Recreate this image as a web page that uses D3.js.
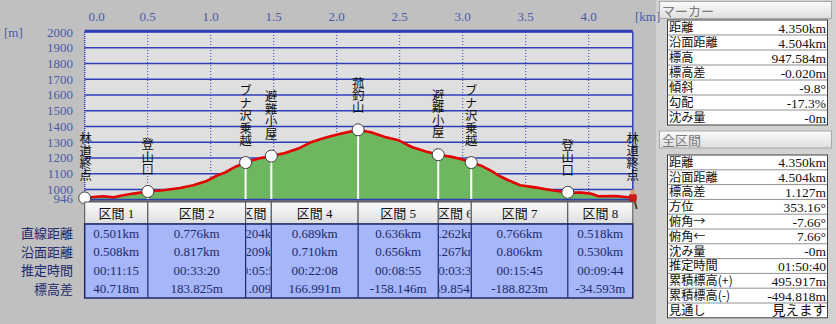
<!DOCTYPE html>
<html>
<head>
<meta charset="utf-8">
<script src="https://cdn.jsdelivr.net/npm/d3@7"></script>
<style>
  body { margin: 0; background: #c0c0c0; }
  svg { display: block; font-family: "Liberation Serif", "Noto Sans CJK JP", serif; }
</style>
</head>
<body>
<svg id="chart" width="836" height="324"></svg>
<script>
// profile: distance [km] / elevation [m]
const profileKm = [0, 0.068, 0.148, 0.227, 0.306, 0.386, 0.501, 0.624, 0.756, 0.862, 0.968, 1.048, 1.114, 1.193, 1.277,
    1.378, 1.481, 1.590, 1.695, 1.802, 1.907, 2.013, 2.119, 2.170, 2.278, 2.383, 2.489, 2.595, 2.701, 2.806, 2.913,
    2.992, 3.068, 3.151, 3.230, 3.296, 3.362, 3.455, 3.587, 3.706, 3.834, 3.944, 4.023, 4.076, 4.214, 4.294, 4.350]
const profileElev = [946, 952, 957, 950, 963, 974, 987, 995, 1010, 1027, 1054, 1088, 1108, 1143, 1171,
    1197, 1212, 1232, 1260, 1302, 1328, 1351, 1370, 1379, 1362, 1334, 1313, 1270, 1243, 1221, 1207,
    1192, 1171, 1150, 1116, 1084, 1059, 1027, 1012, 995, 982, 980, 973, 957, 959, 952, 947.6]

const waypointNames = ["林道終点", "登山口", "ブナ沢乗越", "避難小屋", "菰釣山", "避難小屋", "ブナ沢乗越", "登山口", "林道終点"]
const startElev = 946.457

// section table
const sectionNames = ["区間 1", "区間 2", "区間 3", "区間 4", "区間 5", "区間 6", "区間 7", "区間 8"]
const straightDist = [0.501, 0.776, 0.204, 0.689, 0.636, 0.262, 0.766, 0.518]
const surfaceDist = [0.508, 0.817, 0.209, 0.710, 0.656, 0.267, 0.806, 0.530]
const estTime = ["00:11:15", "00:33:20", "00:05:55", "00:22:08", "00:08:55", "00:03:38", "00:15:45", "00:09:44"]
const elevDiff = [40.718, 183.825, 41.009, 166.991, -158.146, -49.854, -188.823, -34.593]
const rowLabels = ["直線距離", "沿面距離", "推定時間", "標高差"]

// side panels
const markerLabels = ["距離", "沿面距離", "標高", "標高差", "傾斜", "勾配", "沈み量"]
const markerValues = ["4.350km", "4.504km", "947.584m", "-0.020m", "-9.8°", "-17.3%", "-0m"]
const totalLabels = ["距離", "沿面距離", "標高差", "方位", "俯角→", "俯角←", "沈み量", "推定時間", "累積標高(+)", "累積標高(-)", "見通し"]
const totalValues = ["4.350km", "4.504km", "1.127m", "353.16°", "-7.66°", "7.66°", "-0m", "01:50:40", "495.917m", "-494.818m", "見えます"]

const xTicks = [0, 0.5, 1.0, 1.5, 2.0, 2.5, 3.0, 3.5, 4.0]
const yTicks = [2000, 1900, 1800, 1700, 1600, 1500, 1400, 1300, 1200, 1100, 1000]
const yMin = 946

const svg = d3.select("#chart")
const x = d3.scaleLinear().domain([0, 4.35]).range([84.7, 632.8])
const y = d3.scaleLinear().domain([yMin, 2000]).range([198, 32])
const axisBlue = "#4a5aa8"
const navy = "#1c2a6a"

// waypoint positions from the section distances
const wpKm = [0]
straightDist.forEach(d => wpKm.push(Math.min(4.35, wpKm[wpKm.length - 1] + d)))
const wpElev = [startElev]
elevDiff.forEach(d => wpElev.push(wpElev[wpElev.length - 1] + d))

const defs = svg.append("defs")
const btn = defs.append("linearGradient").attr("id", "btn").attr("x1", 0).attr("x2", 0).attr("y1", 0).attr("y2", 1)
btn.append("stop").attr("offset", "0%").attr("stop-color", "#fbfbfb")
btn.append("stop").attr("offset", "100%").attr("stop-color", "#dedede")

// right panel background
svg.append("rect").attr("x", 656).attr("y", 0).attr("width", 180).attr("height", 324).attr("fill", "#d2d2d2")

// plot background
svg.append("rect")
    .attr("x", x(0)).attr("y", y(2000))
    .attr("width", x(4.35) - x(0)).attr("height", y(yMin) - y(2000) + 1)
    .attr("fill", "#dfdfdf")

// horizontal grid
svg.selectAll(".hgrid")
    .data(yTicks)
    .enter().append("line")
    .attr("x1", x(0)).attr("x2", x(4.35))
    .attr("y1", d => y(d)).attr("y2", d => y(d))
    .attr("stroke", "#2f3fb8").attr("stroke-width", 1.3)

// vertical dotted grid
svg.selectAll(".vgrid")
    .data(xTicks.slice(1))
    .enter().append("line")
    .attr("x1", d => x(d)).attr("x2", d => x(d))
    .attr("y1", y(2000)).attr("y2", y(yMin))
    .attr("stroke", "#2f3fb8").attr("stroke-width", 1)
    .attr("stroke-dasharray", "1,2")

// profile area + line
const area = d3.area()
    .x((d, i) => x(profileKm[i]))
    .y0(y(yMin) + 1)
    .y1(d => y(d))
svg.append("path").datum(profileElev).attr("d", area).attr("fill", "#6fb660")

const line = d3.line()
    .x((d, i) => x(profileKm[i]))
    .y(d => y(d))
svg.append("path").datum(profileElev).attr("d", line)
    .attr("fill", "none").attr("stroke", "#e40000").attr("stroke-width", 2.6)

// frame
svg.append("line").attr("x1", x(0)).attr("x2", x(4.35)).attr("y1", y(2000) - 1).attr("y2", y(2000) - 1)
    .attr("stroke", "#2f3fb8").attr("stroke-width", 2.5)
svg.append("line").attr("x1", x(0)).attr("x2", x(0)).attr("y1", y(2000)).attr("y2", y(yMin) + 2)
    .attr("stroke", "#2f3fb8").attr("stroke-width", 1.5).attr("stroke-dasharray", "1,1")
svg.append("line").attr("x1", x(4.35)).attr("x2", x(4.35)).attr("y1", y(2000)).attr("y2", y(yMin) + 2)
    .attr("stroke", "#2f3fb8").attr("stroke-width", 1.5)
svg.append("line").attr("x1", x(0)).attr("x2", x(4.35)).attr("y1", y(yMin) + 1.5).attr("y2", y(yMin) + 1.5)
    .attr("stroke", "#2f3fb8").attr("stroke-width", 1.5)
svg.append("line").attr("x1", x(0)).attr("x2", x(4.35)).attr("y1", y(yMin) + 3).attr("y2", y(yMin) + 3)
    .attr("stroke", "#303050").attr("stroke-width", 1.2)

// waypoint drop lines, circles, vertical labels
svg.selectAll(".drop")
    .data(wpKm.slice(1, -1))
    .enter().append("line")
    .attr("x1", d => x(d)).attr("x2", d => x(d))
    .attr("y1", (d, i) => y(wpElev[i + 1])).attr("y2", y(yMin) + 1)
    .attr("stroke", "white").attr("stroke-width", 2)

svg.selectAll(".wp")
    .data(wpKm.slice(0, -1))
    .enter().append("circle")
    .attr("cx", d => x(d)).attr("cy", (d, i) => y(wpElev[i]))
    .attr("r", 6)
    .attr("fill", "white").attr("stroke", "#404040").attr("stroke-width", 1)

svg.selectAll(".wlab")
    .data(waypointNames)
    .enter().append("text")
    .attr("x", (d, i) => i === 0 ? x(0) + 1 : x(wpKm[i]))
    .attr("y", (d, i) => y(wpElev[i]) - 16)
    .attr("writing-mode", "vertical-rl")
    .attr("text-anchor", "end")
    .attr("font-family", "Noto Sans CJK JP")
    .attr("font-size", 12.4)
    .attr("fill", "#111")
    .text(d => d)

// hiker marker at the end
const hk = svg.append("g").attr("transform", `translate(${x(4.35)},${y(yMin) + 2})`)
hk.append("rect").attr("x", -4).attr("y", -6).attr("width", 8).attr("height", 8).attr("rx", 2).attr("fill", "#c81818")
hk.append("circle").attr("cx", 0).attr("cy", -8).attr("r", 2.5).attr("fill", "#d8a070")
hk.append("path").attr("d", "M-3,2 L-5,9 M2,2 L4,9").attr("stroke", "#504020").attr("stroke-width", 2)

// top axis
svg.selectAll(".xlab")
    .data(xTicks)
    .enter().append("text")
    .attr("x", d => d === 0 ? x(0) + 12 : x(d))
    .attr("y", 21)
    .attr("text-anchor", "middle")
    .attr("font-size", 13)
    .attr("fill", axisBlue)
    .text(d => d.toFixed(1))
svg.append("text").attr("x", 635).attr("y", 21).attr("font-size", 13).attr("fill", axisBlue).text("[km]")

// left axis
svg.selectAll(".ylab")
    .data(yTicks.concat([yMin]))
    .enter().append("text")
    .attr("x", 73)
    .attr("y", d => y(d) + 4.5)
    .attr("text-anchor", "end")
    .attr("font-size", 13)
    .attr("fill", axisBlue)
    .text(d => d)
svg.append("text").attr("x", 4).attr("y", 37).attr("font-size", 13).attr("fill", axisBlue).text("[m]")

// section table
const tTop = 202, hdrH = 22, rowH = 18.5
const cols = sectionNames.map((s, i) => ({ x0: x(wpKm[i]), x1: x(wpKm[i + 1]), i }))
const rows = [
    straightDist.map(d => d.toFixed(3) + "km"),
    surfaceDist.map(d => d.toFixed(3) + "km"),
    estTime,
    elevDiff.map(d => d.toFixed(3) + "m")
]

cols.forEach(c => {
    defs.append("clipPath").attr("id", "col" + c.i)
        .append("rect").attr("x", c.x0 + 1).attr("y", tTop).attr("width", c.x1 - c.x0 - 2).attr("height", hdrH + rowH * 4)
})

svg.selectAll(".hdr")
    .data(cols)
    .enter().append("rect")
    .attr("x", c => c.x0).attr("y", tTop)
    .attr("width", c => c.x1 - c.x0).attr("height", hdrH)
    .attr("fill", "url(#btn)").attr("stroke", "#505050").attr("stroke-width", 1)

svg.append("rect")
    .attr("x", x(0)).attr("y", tTop + hdrH)
    .attr("width", x(4.35) - x(0)).attr("height", rowH * 4)
    .attr("fill", "#a6b6f8").attr("stroke", navy).attr("stroke-width", 1.5)

svg.selectAll(".csep")
    .data(cols.slice(1))
    .enter().append("line")
    .attr("x1", c => c.x0).attr("x2", c => c.x0)
    .attr("y1", tTop + hdrH).attr("y2", tTop + hdrH + rowH * 4)
    .attr("stroke", navy).attr("stroke-width", 1.2)

cols.forEach(c => {
    const g = svg.append("g").attr("clip-path", `url(#col${c.i})`)
    g.append("text")
        .attr("x", (c.x0 + c.x1) / 2).attr("y", tTop + 16)
        .attr("text-anchor", "middle").attr("font-size", 13).attr("fill", "#111")
        .text(sectionNames[c.i])
    g.selectAll("text.v")
        .data(rows)
        .enter().append("text")
        .attr("class", "v")
        .attr("x", (c.x0 + c.x1) / 2)
        .attr("y", (r, j) => tTop + hdrH + rowH * j + 13.5)
        .attr("text-anchor", "middle").attr("font-size", 13).attr("fill", navy)
        .text(r => r[c.i])
})

svg.selectAll(".rlab")
    .data(rowLabels)
    .enter().append("text")
    .attr("x", 73)
    .attr("y", (d, j) => tTop + hdrH + rowH * j + 14)
    .attr("text-anchor", "end")
    .attr("font-family", "Noto Sans CJK JP")
    .attr("font-size", 13)
    .attr("fill", navy)
    .text(d => d)

// side panels
function drawPanel(hy, title, top, rh, labels, values) {
    svg.append("rect").attr("x", 659.5).attr("y", hy).attr("width", 172).attr("height", 17)
        .attr("fill", "url(#btn)").attr("stroke", "#a8a8a8")
    svg.append("text").attr("x", 662).attr("y", hy + 14).attr("font-family", "Noto Sans CJK JP")
        .attr("font-size", 13).attr("fill", "#7a7a7a").text(title)
    svg.append("rect").attr("x", 667.5).attr("y", top).attr("width", 160).attr("height", rh * labels.length)
        .attr("fill", "white").attr("stroke", "#404040")
    svg.selectAll(null)
        .data(labels.slice(1))
        .enter().append("line")
        .attr("x1", 668).attr("x2", 827)
        .attr("y1", (d, i) => top + rh * (i + 1)).attr("y2", (d, i) => top + rh * (i + 1))
        .attr("stroke", "#909090")
    svg.selectAll(null)
        .data(labels)
        .enter().append("text")
        .attr("x", 669).attr("y", (d, i) => top + rh * i + rh - 3)
        .attr("font-family", "Noto Sans CJK JP")
        .attr("font-size", 12.2).attr("fill", "#111")
        .text(d => d)
    svg.selectAll(null)
        .data(values)
        .enter().append("text")
        .attr("x", 826).attr("y", (d, i) => top + rh * i + rh - 2.5)
        .attr("text-anchor", "end")
        .attr("font-size", 13.5).attr("fill", "#111")
        .text(d => d)
}
drawPanel(1.5, "マーカー", 20, 15, markerLabels, markerValues)
drawPanel(131, "全区間", 155, 14.8, totalLabels, totalValues)
</script>
</body>
</html>
